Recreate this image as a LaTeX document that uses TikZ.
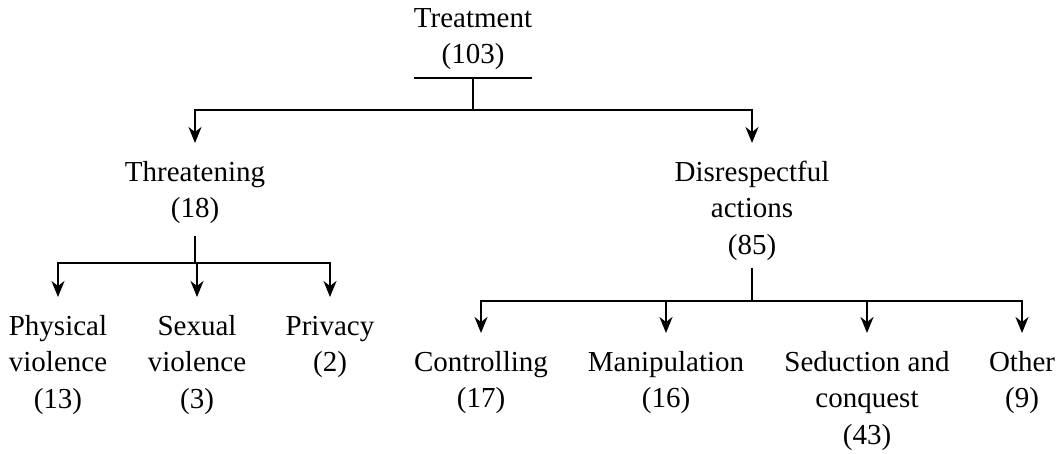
\documentclass[tikz,border=0pt]{standalone}
\usepackage{fontspec}
\setmainfont{Liberation Serif}
\usetikzlibrary{arrows.meta}
\tikzset{
  lbl/.style={anchor=north, align=center, inner sep=0pt, outer xsep=0pt, outer ysep=12.45pt,
              font=\fontsize{29}{36.5}\selectfont},
  ln/.style={line width=2.1pt, black},
  stub/.style={line width=2.7pt, black},
  arr/.style={line width=2.1pt, black, -{Stealth[length=16pt,width=13pt,inset=5pt]}}
}
\begin{document}
\begin{tikzpicture}[x=1pt,y=-1pt]
\useasboundingbox (0,0) rectangle (1059,453);
% nodes
\node[lbl, outer ysep=8pt] (T) at (473,-6.55) {\strut Treatment\\(103)};
\node[lbl] (Thr) at (195,143) {\strut Threatening\\(18)};
\node[lbl] (Dis) at (752,143) {\strut Disrespectful\\actions\\(85)};
\node[lbl] (Phy) at (58,297) {\strut Physical\\violence\\(13)};
\node[lbl] (Sex) at (197,297) {\strut Sexual\\violence\\(3)};
\node[lbl] (Pri) at (330,297) {\strut Privacy\\(2)};
\node[lbl] (Con) at (481,333) {\strut Controlling\\(17)};
\node[lbl] (Man) at (666,333) {\strut Manipulation\\(16)};
\node[lbl] (Sed) at (867,333) {\strut Seduction and\\conquest\\(43)};
\node[lbl] (Oth) at (1022,333) {\strut Other\\(9)};
% junctions
\coordinate (j0) at (473,110);
\coordinate (j1) at (195,263);
\coordinate (j2) at (752,301);
% connectors
\draw[ln] (T.south west) -- (T.south east);
\draw[stub] (T.south) -- (j0);
\draw[arr] (j0) -| (Thr);
\draw[arr] (j0) -| (Dis);
\draw[stub] (Thr.south) -- (j1);
\draw[arr] (j1) -| (Phy);
\draw[arr] (j1) -| (Sex);
\draw[arr] (j1) -| (Pri);
\draw[stub] ([yshift=5pt]Dis.south) -- (j2);
\draw[arr] (j2) -| (Con);
\draw[arr] (j2) -| (Man);
\draw[arr] (j2) -| (Sed);
\draw[arr] (j2) -| (Oth);
\end{tikzpicture}
\end{document}
